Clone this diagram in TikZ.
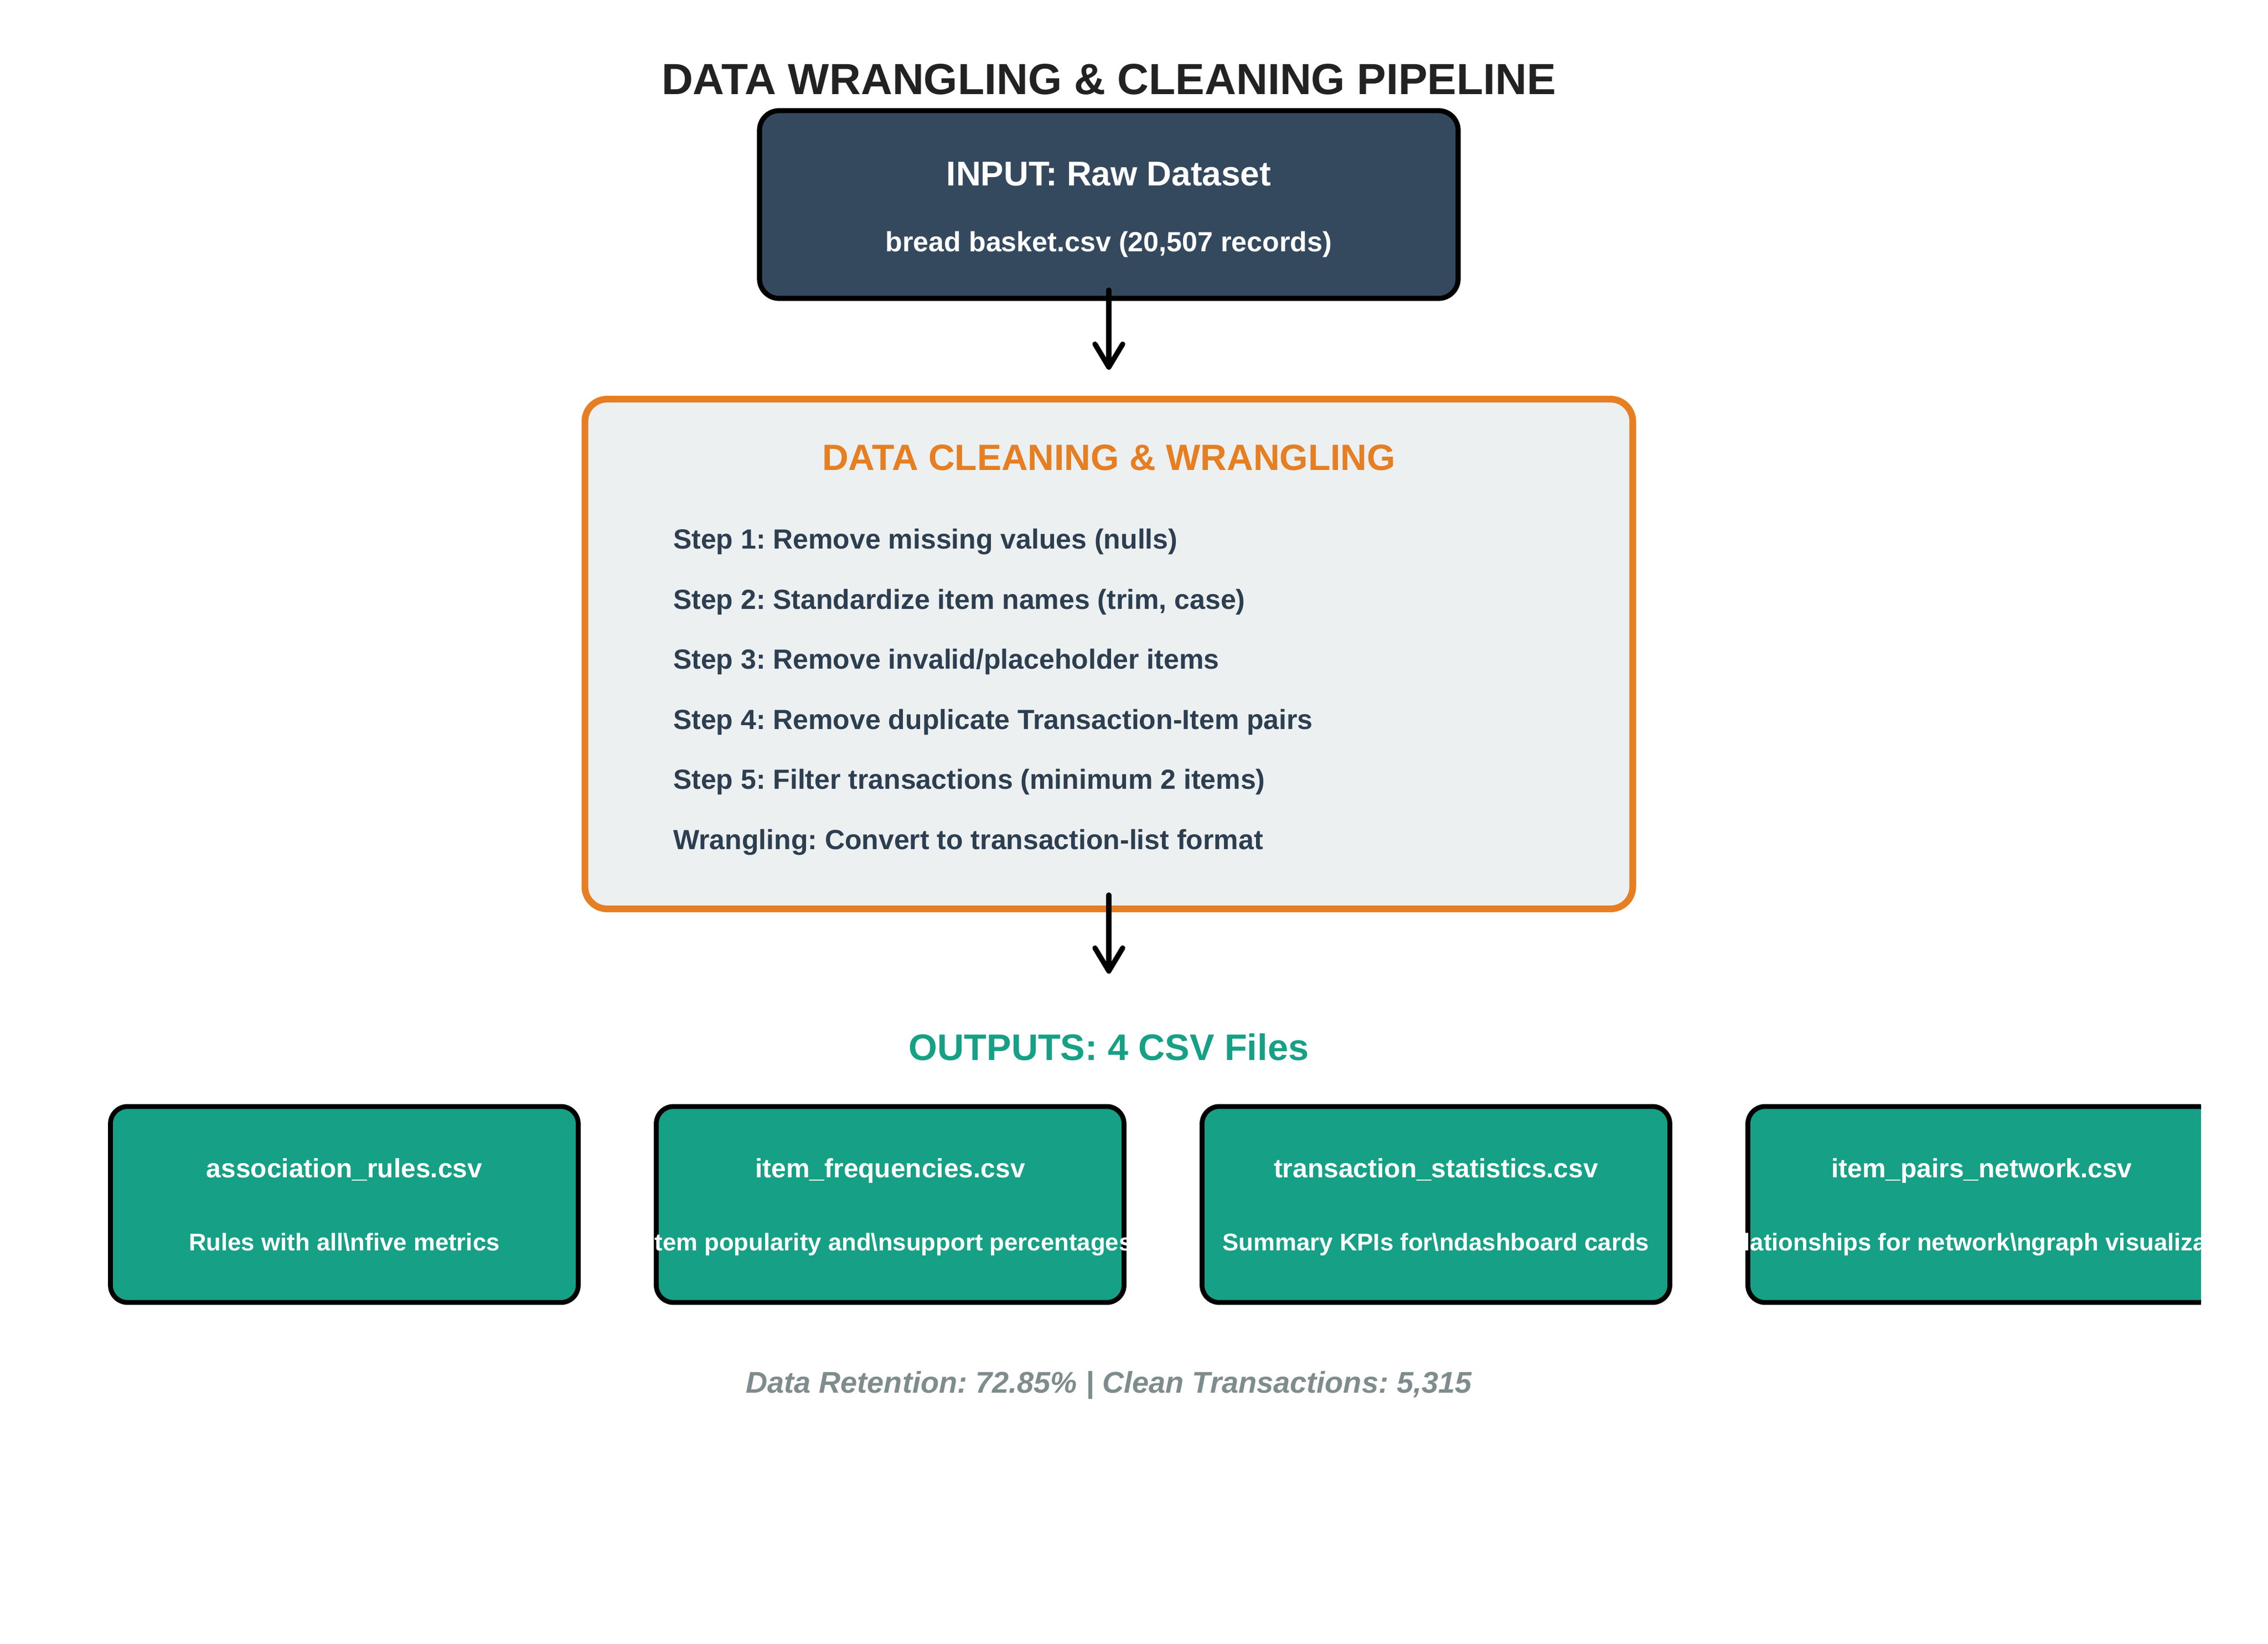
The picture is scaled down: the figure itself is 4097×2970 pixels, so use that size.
\documentclass[tikz,border=0pt]{standalone}
\usepackage{fontspec}
\setmainfont{Liberation Sans}
\usetikzlibrary{arrows.meta, positioning}
\frenchspacing

\definecolor{inputblue}{HTML}{34495E}
\definecolor{cleanorange}{HTML}{E67E22}
\definecolor{cleangray}{HTML}{ECF0F1}
\definecolor{outteal}{HTML}{16A085}
\definecolor{stepdark}{HTML}{2C3E50}
\definecolor{titledark}{HTML}{222222}
\definecolor{notegray}{HTML}{7F8C8D}

\begin{document}
\begin{tikzpicture}[x=0.24pt,y=-0.24pt,>={Straight Barb[length=10pt,width=12pt,round]},
        every node/.style={inner sep=0pt, outer sep=0pt},
        inputbox/.style={draw=black, line width=2.2pt, fill=inputblue, rounded corners=8.5pt, minimum width=302.9pt, minimum height=81.4pt},
        cleanbox/.style={draw=cleanorange, line width=2.9pt, fill=cleangray, rounded corners=9.6pt, minimum width=454.3pt, minimum height=221pt},
        outbox/.style={draw=black, line width=2.1pt, fill=outteal, rounded corners=7.5pt, minimum width=202.8pt, minimum height=85pt},
        steptext/.style={anchor=base west, text=stepdark, font=\fontsize{12}{14}\selectfont\bfseries},
        fname/.style={anchor=base, text=white, font=\fontsize{11.5}{14}\selectfont\bfseries},
        fdesc/.style={anchor=base, text=white, font=\fontsize{10.5}{13}\selectfont\bfseries},
        flow/.style={->, line width=2.25pt, line cap=round}]

    \useasboundingbox (0,0) rectangle (4097,2970);

    \node[anchor=base, text=titledark, font=\fontsize{18.9}{22}\selectfont\bfseries] (title) at (2003,171) {DATA WRANGLING \& CLEANING PIPELINE};

    % input
    \node[inputbox] (input) at (2003,369.5) {};
    \node[anchor=base, text=white, font=\fontsize{14.9}{18}\selectfont\bfseries] (intitle) at (2003,336) {INPUT: Raw Dataset};
    \node[anchor=base, text=white, font=\fontsize{12.05}{14}\selectfont\bfseries] (insub) at (2003,455) {bread basket.csv (20,507 records)};

    % cleaning
    \node[cleanbox] (clean) at (2003,1181.5) {};
    \node[anchor=base, text=cleanorange, font=\fontsize{15.85}{19}\selectfont\bfseries] (cleantitle) at (2003,850) {DATA CLEANING \& WRANGLING};
    \node[steptext] (s1) at (1216,992) {Step 1: Remove missing values (nulls)};
    \node[steptext] (s2) at (1216,1100.4) {Step 2: Standardize item names (trim, case)};
    \node[steptext] (s3) at (1216,1208.8) {Step 3: Remove invalid/placeholder items};
    \node[steptext] (s4) at (1216,1317.2) {Step 4: Remove duplicate Transaction-Item pairs};
    \node[steptext] (s5) at (1216,1425.6) {Step 5: Filter transactions (minimum 2 items)};
    \node[steptext] (s6) at (1216,1534) {Wrangling: Convert to transaction-list format};

    \coordinate (a1) at (2003,668);
    \coordinate (a2) at (2003,1759);
    \draw[flow] ([yshift=3.6pt]input.south) -- (a1);
    \draw[flow] ([yshift=6pt]clean.south) -- (a2);

    % outputs
    \node[anchor=base, text=outteal, font=\fontsize{16}{19}\selectfont\bfseries] (outtitle) at (2003,1915) {OUTPUTS: 4 CSV Files};
    \begin{scope}
      \clip (0,0) rectangle (3976,2970);
      \node[outbox] (rules) at (622,2176) {};
      \node[outbox, right=33.84pt of rules] (freq) {};
      \node[outbox, right=33.84pt of freq] (stats) {};
      \node[outbox, right=33.84pt of stats] (pairs) {};
      \node[fname] at ([yshift=11.76pt]rules.center) {association\_rules.csv};
      \node[fdesc] at ([yshift=-19.92pt]rules.center) {Rules with all\textbackslash nfive metrics};
      \node[fname] at ([yshift=11.76pt]freq.center) {item\_frequencies.csv};
      \node[fdesc] at ([yshift=-19.92pt]freq.center) {Item popularity and\textbackslash nsupport percentages};
      \node[fname] at ([yshift=11.76pt]stats.center) {transaction\_statistics.csv};
      \node[fdesc] at ([yshift=-19.92pt]stats.center) {Summary KPIs for\textbackslash ndashboard cards};
      \node[fname] at ([yshift=11.76pt]pairs.center) {item\_pairs\_network.csv};
      \node[fdesc] at ([yshift=-19.92pt]pairs.center) {Relationships for network\textbackslash ngraph visualization};
    \end{scope}

    \node[anchor=base, text=notegray, font=\fontsize{13}{15}\selectfont\bfseries\itshape] (note) at (2003,2516) {Data Retention: 72.85\% | Clean Transactions: 5,315};
\end{tikzpicture}
\end{document}
